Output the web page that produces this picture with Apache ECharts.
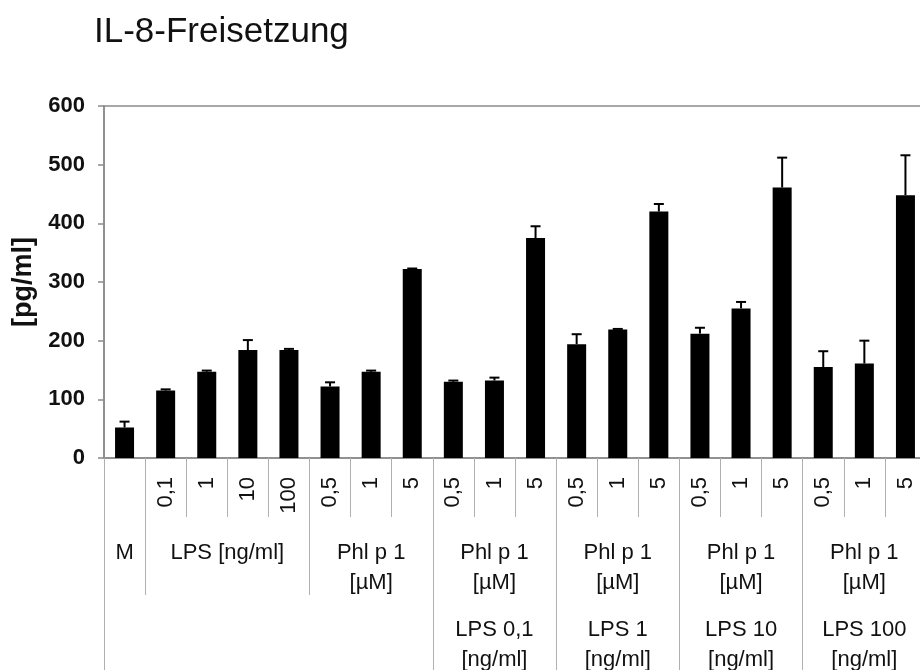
<!DOCTYPE html>
<html>
<head>
<meta charset="utf-8">
<script src="https://cdn.jsdelivr.net/npm/echarts@6/dist/echarts.min.js"></script>
<style>
  html, body { margin: 0; padding: 0; background: #fff; }
  #chart { width: 920px; height: 670px; }
</style>
</head>
<body>
<div id="chart"></div>
<script>
// first table row: concentration of each bar
const categories = ['', '0,1', '1', '10', '100', '0,5', '1', '5', '0,5', '1', '5',
    '0,5', '1', '5', '0,5', '1', '5', '0,5', '1', '5'];
// IL-8 release [pg/ml], mean and upper error (SD)
const means = [52, 115, 147, 184, 184, 122, 147, 322, 130, 132, 375, 194, 219, 420, 212, 255, 461, 155, 161, 448];
const errors = [10, 2, 2, 17, 2, 7, 2, 1, 2, 5, 20, 17, 1, 13, 10, 11, 51, 27, 39, 68];
// second and third table rows
const groupSizes = [1, 4, 3, 3, 3, 3, 3];
const groupLabels = ['M', 'LPS [ng/ml]', 'Phl p 1\n[µM]', 'Phl p 1\n[µM]', 'Phl p 1\n[µM]', 'Phl p 1\n[µM]', 'Phl p 1\n[µM]'];
const coLabels = ['', '', '', 'LPS 0,1\n[ng/ml]', 'LPS 1\n[ng/ml]', 'LPS 10\n[ng/ml]', 'LPS 100\n[ng/ml]'];
const yTicks = [0, 100, 200, 300, 400, 500, 600];

const FONT = "'Liberation Sans', Arial, sans-serif";
const GRID_LINE = '#8a8a8a';
const TABLE_LINE = '#b0b0b0';

// group starts / centres in category units
const starts = [];
let acc = 0;
groupSizes.forEach(s => { starts.push(acc); acc += s; });
const total = acc;
const centers = starts.map((s, i) => s + groupSizes[i] / 2);

const shortLines = [];
const tallLines = [];
starts.forEach((s, i) => {
    if (i === 0 || coLabels[i] !== coLabels[i - 1]) tallLines.push(s);
    else shortLines.push(s);
});
tallLines.push(total);

const findLabel = (list, value) => {
    const i = centers.findIndex(c => Math.abs(c - value) < 1e-6);
    return i < 0 ? '' : list[i];
};

const chart = echarts.init(document.getElementById('chart'));

const option = {
    animation: false,
    backgroundColor: '#fff',
    title: {
        text: 'IL-8-Freisetzung',
        left: 89,
        top: 10,
        textStyle: { fontFamily: FONT, fontSize: 35, fontWeight: 'normal', color: '#111' },
    },
    grid: {
        left: 104,
        right: -6,
        top: 106,
        bottom: 212,
        outerBoundsMode: 'none',
        containLabel: false,
        show: true,
        borderColor: GRID_LINE,
        borderWidth: 1.5,
    },
    xAxis: [
        {
            type: 'category',
            data: categories,
            axisLine: { lineStyle: { color: GRID_LINE, width: 1.5 } },
            axisTick: { show: true, interval: 0, length: 59, lineStyle: { color: TABLE_LINE, width: 1 } },
            axisLabel: {
                interval: 0,
                rotate: 90,
                margin: 19,
                fontFamily: FONT,
                fontSize: 22,
                color: '#111',
            },
        },
        {
            type: 'value',
            min: 0,
            max: total,
            position: 'bottom',
            axisLine: { show: false },
            splitLine: { show: false },
            axisTick: { show: true, customValues: shortLines, length: 137, lineStyle: { color: TABLE_LINE, width: 1 } },
            axisLabel: {
                customValues: centers,
                formatter: v => findLabel(groupLabels, v),
                margin: 80,
                fontFamily: FONT,
                fontSize: 22,
                lineHeight: 30,
                color: '#111',
                verticalAlign: 'top',
            },
        },
        {
            type: 'value',
            min: 0,
            max: total,
            position: 'bottom',
            axisLine: { show: false },
            splitLine: { show: false },
            axisTick: { show: true, customValues: tallLines, length: 212, lineStyle: { color: TABLE_LINE, width: 1 } },
            axisLabel: {
                customValues: centers.filter((c, i) => coLabels[i] !== ''),
                formatter: v => findLabel(coLabels, v),
                margin: 157,
                fontFamily: FONT,
                fontSize: 22,
                lineHeight: 30,
                color: '#111',
                verticalAlign: 'top',
            },
        },
    ],
    yAxis: {
        type: 'value',
        min: 0,
        max: 600,
        interval: 100,
        name: '[pg/ml]',
        nameLocation: 'middle',
        nameGap: 66,
        nameRotate: 90,
        nameTextStyle: { fontFamily: FONT, fontSize: 27, fontWeight: 'bold', color: '#111' },
        axisLine: { show: true, lineStyle: { color: GRID_LINE, width: 1.5 } },
        axisTick: { show: true, length: 6, lineStyle: { color: GRID_LINE, width: 1.5 } },
        splitLine: { show: false },
        axisLabel: {
            margin: 19,
            fontFamily: FONT,
            fontSize: 22,
            fontWeight: 'bold',
            color: '#111',
            formatter: v => (yTicks.includes(v) ? String(v) : ''),
        },
    },
    series: [
        {
            type: 'bar',
            data: means,
            barWidth: 19,
            itemStyle: { color: '#000' },
            z: 2,
        },
        {
            type: 'custom',
            z: 3,
            data: means.map((m, i) => [i, m, m + errors[i]]),
            renderItem: (params, api) => {
                const base = api.coord([api.value(0), api.value(1)]);
                const top = api.coord([api.value(0), api.value(2)]);
                const half = 5;
                const style = { stroke: '#000', lineWidth: 2 };
                return {
                    type: 'group',
                    children: [
                        { type: 'line', shape: { x1: base[0], y1: base[1], x2: top[0], y2: top[1] }, style },
                        { type: 'line', shape: { x1: top[0] - half, y1: top[1], x2: top[0] + half, y2: top[1] }, style },
                    ],
                };
            },
        },
    ],
};

chart.setOption(option);
</script>
</body>
</html>
